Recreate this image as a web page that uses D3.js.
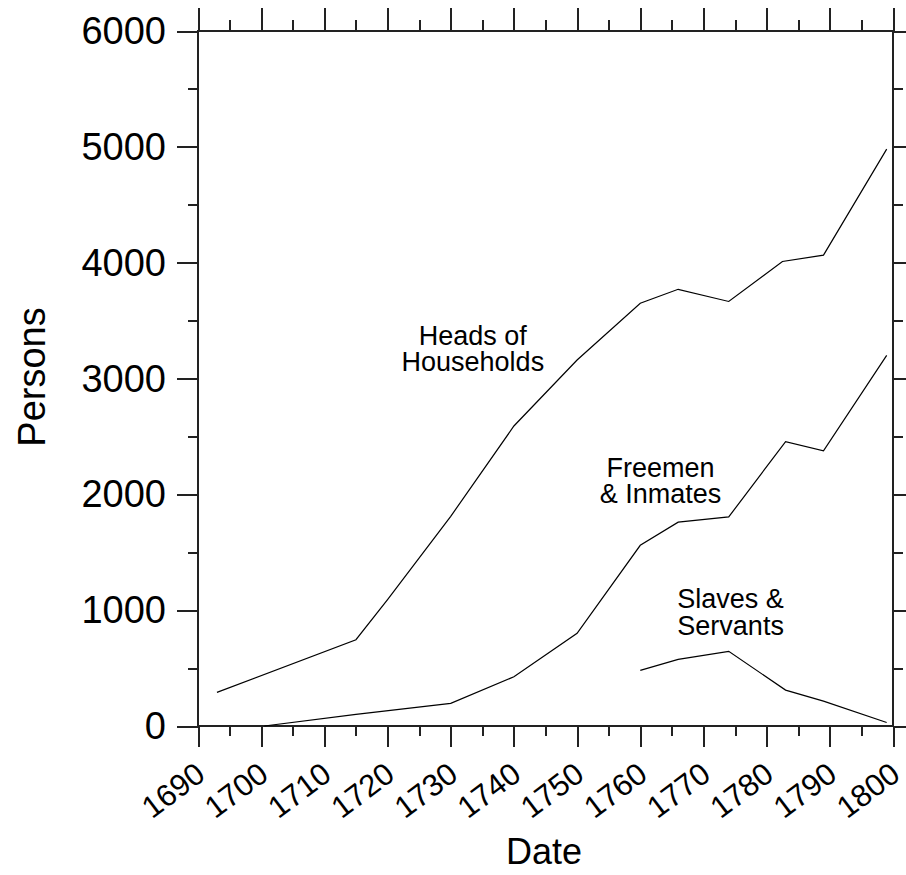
<!DOCTYPE html>
<html>
<head>
<meta charset="utf-8">
<script src="https://cdnjs.cloudflare.com/ajax/libs/d3/7.8.5/d3.min.js"></script>
<style>
  body { margin: 0; background: #fff; }
  svg { display: block; }
  text { font-family: Arial, "Liberation Sans", sans-serif; fill: #000; }
  .axis path, .axis line { stroke: #222; stroke-width: 2; shape-rendering: crispEdges; }
  .series { fill: none; stroke: #000; stroke-width: 1.2; }
</style>
</head>
<body>
<svg id="chart" width="906" height="875"></svg>
<script>
// values
var headsYears   = [1693, 1715, 1720, 1730, 1740, 1750, 1760, 1766, 1774, 1782.5, 1789, 1799];
var headsPersons = [290, 745, 1090, 1810, 2590, 3160, 3650, 3770, 3665, 4010, 4065, 4980];

var freemenYears   = [1700.5, 1715, 1730, 1740, 1750, 1760, 1766, 1774, 1783, 1789, 1799];
var freemenPersons = [0, 100, 195, 425, 800, 1560, 1760, 1805, 2455, 2375, 3200];

var slavesYears   = [1760, 1766, 1774, 1783, 1789, 1799];
var slavesPersons = [480, 575, 645, 310, 215, 30];

var xMajor = d3.range(1690, 1801, 10);
var xMinor = d3.range(1695, 1800, 10);
var yMajor = d3.range(0, 6001, 1000);
var yMinor = d3.range(500, 6000, 1000);

var labels = [
  {lines: ['Heads of', 'Households'], year: 1733.5, persons: 3290},
  {lines: ['Freemen', '& Inmates'], year: 1763.2, persons: 2150},
  {lines: ['Slaves &', 'Servants'], year: 1774.3, persons: 1015}
];

var L = 198, R = 893, T = 31, B = 726;

var svg = d3.select('#chart');
var x = d3.scaleLinear().domain([1690, 1800]).range([L, R]);
var y = d3.scaleLinear().domain([0, 6000]).range([B, T]);

function axis(gen, tx, ty, vals, size) {
  var g = svg.append('g').attr('class', 'axis')
    .attr('transform', 'translate(' + tx + ',' + ty + ')')
    .call(gen.tickValues(vals).tickSize(size).tickSizeOuter(0).tickFormat(''));
  g.select('.domain').remove();
  return g;
}

// ticks, all pointing outwards
axis(d3.axisBottom(x), 0, B, xMajor, 21);
axis(d3.axisBottom(x), 0, B, xMinor, 10);
axis(d3.axisTop(x), 0, T, xMajor, 23);
axis(d3.axisTop(x), 0, T, xMinor, 11);
axis(d3.axisLeft(y), L, 0, yMajor, 21);
axis(d3.axisLeft(y), L, 0, yMinor, 10);
axis(d3.axisRight(y), R, 0, yMajor, 21);
axis(d3.axisRight(y), R, 0, yMinor, 10);

// frame
svg.append('rect')
  .attr('x', L).attr('y', T).attr('width', R - L).attr('height', B - T)
  .attr('fill', 'none').attr('stroke', '#222').attr('stroke-width', 2)
  .attr('shape-rendering', 'crispEdges');

// y tick labels
svg.append('g').selectAll('text').data(yMajor).enter().append('text')
  .attr('x', 166).attr('y', function(d){ return y(d) + 13; })
  .attr('text-anchor', 'end').style('font-size', '38px')
  .text(function(d){ return d; });

// x tick labels, slanted
svg.append('g').selectAll('text').data(xMajor).enter().append('text')
  .attr('text-anchor', 'end').style('font-size', '31px')
  .attr('transform', function(d){ return 'translate(' + (x(d) + 9) + ',' + 778 + ') rotate(-37)'; })
  .text(function(d){ return d; });

// axis titles
svg.append('text').attr('x', 544).attr('y', 864).attr('text-anchor', 'middle')
  .style('font-size', '36px').text('Date');
svg.append('text').attr('text-anchor', 'middle').style('font-size', '38px')
  .attr('transform', 'translate(45,377) rotate(-90)').text('Persons');

// series
var line = d3.line().x(function(d){ return x(d[0]); }).y(function(d){ return y(d[1]); });
[[headsYears, headsPersons], [freemenYears, freemenPersons], [slavesYears, slavesPersons]]
  .forEach(function(s){
    svg.append('path').attr('class', 'series')
      .attr('d', line(d3.zip(s[0], s[1])));
  });

// series labels
labels.forEach(function(lb){
  var t = svg.append('text').attr('text-anchor', 'middle').style('font-size', '27px');
  lb.lines.forEach(function(s, i){
    t.append('tspan').attr('x', x(lb.year)).attr('y', y(lb.persons) + i * 26.5).text(s);
  });
});
</script>
</body>
</html>
